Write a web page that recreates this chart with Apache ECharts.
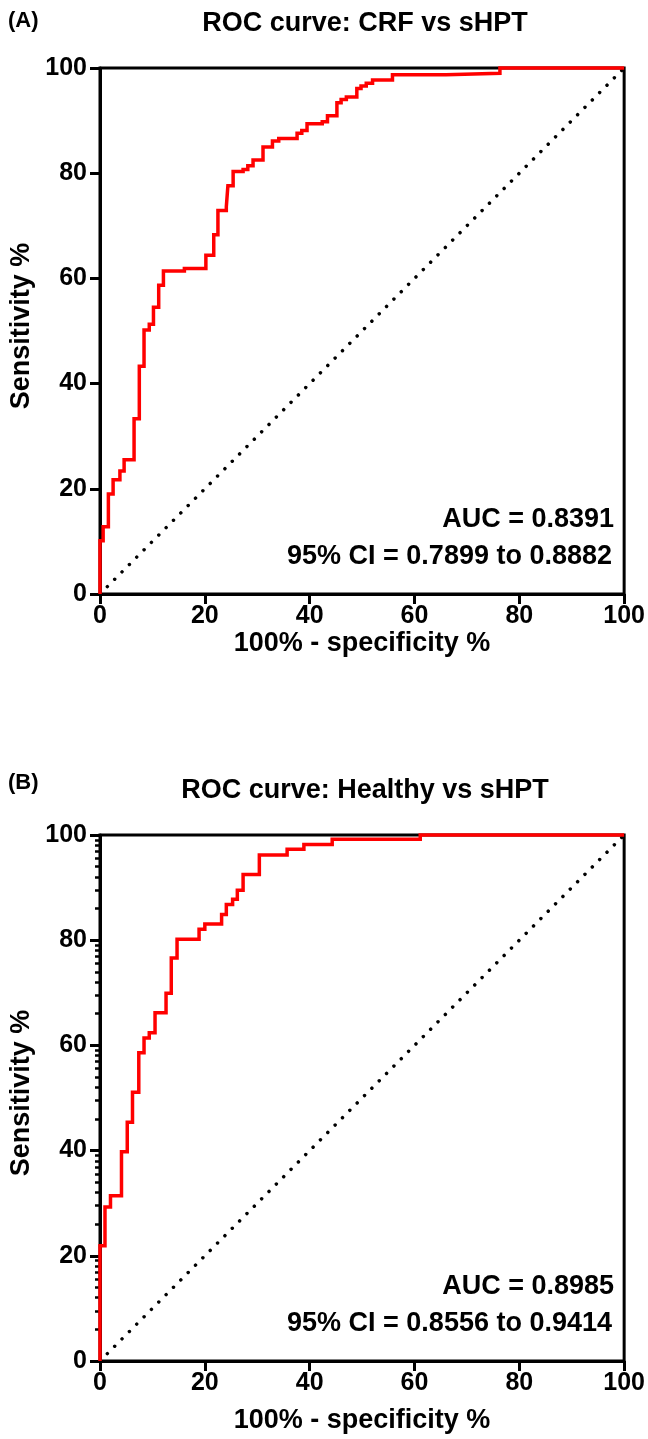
<!DOCTYPE html>
<html><head><meta charset="utf-8">
<script src="https://cdn.jsdelivr.net/npm/echarts@6/dist/echarts.min.js"></script>
<style>html,body{margin:0;padding:0;background:#fff}#c{width:648px;height:1439px}</style>
</head><body><div id="c"></div>
<script>
// ---- data ----
const panelTitles = ['ROC curve: CRF vs sHPT', 'ROC curve: Healthy vs sHPT'];
const panelLetters = ['(A)', '(B)'];
const xAxisTitle = '100% - specificity %';
const yAxisTitle = 'Sensitivity %';
const aucTexts = ['AUC = 0.8391', 'AUC = 0.8985'];
const ciTexts = ['95% CI = 0.7899 to 0.8882', '95% CI = 0.8556 to 0.9414'];
const axisTicks = [0, 20, 40, 60, 80, 100];
const diagonal = [[0, 0], [100, 100]];

// Panel A: 100% - specificity (x) and sensitivity (y) at each step
const fprA = [0, 0, 0.6, 1.6, 2.5, 3.8, 4.6, 6.5, 7.5, 8.4, 9.4, 10.2, 11.2, 12.1, 16.1, 20.2, 21.7, 22.5, 24.1, 24.4, 25.4, 27.3, 28.2, 29.2, 31.1, 32.9, 34.1, 37.6, 38.5, 39.5, 42.4, 43.4, 45.2, 46.0, 47.0, 49.0, 49.8, 50.8, 52.0, 55.8, 66.0, 76.3, 100];
const tprA = [0, 10.1, 12.8, 19.0, 21.7, 23.4, 25.5, 33.3, 43.3, 50.2, 51.3, 54.5, 58.7, 61.4, 61.9, 64.4, 68.3, 72.9, 73.6, 77.6, 80.3, 80.7, 81.4, 82.5, 85.0, 86.1, 86.6, 87.6, 88.1, 89.4, 89.8, 90.9, 93.4, 94.0, 94.5, 96.1, 96.6, 97.1, 97.7, 98.7, 99.0, 100, 100];

// Panel B
const fprB = [0, 0, 0.95, 2.0, 4.1, 5.2, 6.2, 7.4, 8.4, 9.4, 10.5, 12.6, 13.6, 14.7, 18.9, 20.0, 23.2, 24.1, 25.3, 26.2, 27.3, 30.4, 35.7, 38.9, 44.3, 61.1, 100];
const tprB = [0, 21.9, 29.3, 31.4, 39.8, 45.4, 51.1, 58.6, 61.4, 62.4, 66.2, 69.9, 76.6, 80.2, 82.1, 83.1, 84.9, 86.8, 87.8, 89.5, 92.5, 96.2, 97.3, 98.2, 99.2, 100, 100];

// minor (log-style) ticks on panel B y axis
const minorFactors = [2, 3, 4, 5, 6, 7, 8, 9];

// ---- build ----
const FONT = '"Liberation Sans", Arial, sans-serif';
const zip = (a, b) => a.map((v, i) => [v, b[i]]);
const minorVals = [];
[0, 20, 40, 60, 80].forEach(d => minorFactors.forEach(k => minorVals.push(+(d + 20 * Math.log10(k)).toFixed(3))));

const gridTops = [68, 835];
const gridH = 526, gridL = 100, gridW = 525;
const nameGaps = [34, 46];
const letterY = [21, 783];

const chart = echarts.init(document.getElementById('c'), null, {renderer: 'canvas'});

const xAxes = [], yAxes = [], series = [], graphics = [];
gridTops.forEach((top, i) => {
  xAxes.push({
    type: 'value', gridIndex: i, min: 0, max: 100, interval: 20,
    axisLine: {show: true, lineStyle: {color: '#000', width: 3}},
    axisTick: {show: true, length: 10, lineStyle: {color: '#000', width: 3}},
    axisLabel: {color: '#000', fontFamily: FONT, fontWeight: 'bold', fontSize: 25, margin: 10},
    splitLine: {show: false},
    name: xAxisTitle, nameLocation: 'middle', nameGap: nameGaps[i],
    nameTextStyle: {color: '#000', fontFamily: FONT, fontWeight: 'bold', fontSize: 27}
  });
  yAxes.push({
    type: 'value', gridIndex: i, min: 0, max: 100, interval: 20,
    axisLine: {show: true, lineStyle: {color: '#000', width: 3}},
    axisTick: {show: true, length: 10, lineStyle: {color: '#000', width: 3}},
    axisLabel: {color: '#000', fontFamily: FONT, fontWeight: 'bold', fontSize: 25, margin: 13},
    splitLine: {show: false}
  });
  series.push({
    type: 'line', xAxisIndex: i, yAxisIndex: i, data: diagonal, showSymbol: false, silent: true,
    lineStyle: {color: '#000', width: 3.5, type: [0.01, 10.4], cap: 'round'}, z: 3
  });
  series.push({
    type: 'line', xAxisIndex: i, yAxisIndex: i, step: 'end',
    data: i === 0 ? zip(fprA, tprA) : zip(fprB, tprB),
    showSymbol: false, silent: true, clip: false,
    lineStyle: {color: '#ff0000', width: 3.5, join: 'miter'}, z: 4
  });
  const off = top - 68;
  graphics.push({type: 'text', x: 365, y: 24 + off, style: {text: panelTitles[i], font: 'bold 27px ' + FONT, fill: '#000', textAlign: 'center', textVerticalAlign: 'middle'}});
  graphics.push({type: 'text', x: 8, y: letterY[i], style: {text: panelLetters[i], font: 'bold 22px ' + FONT, fill: '#000', textAlign: 'left', textVerticalAlign: 'middle'}});
  graphics.push({type: 'text', x: 22, y: 326 + off, rotation: Math.PI / 2, style: {text: yAxisTitle, font: 'bold 27px ' + FONT, fill: '#000', textAlign: 'center', textVerticalAlign: 'middle'}});
  graphics.push({type: 'text', x: 614, y: 520 + off, style: {text: aucTexts[i], font: 'bold 27px ' + FONT, fill: '#000', textAlign: 'right', textVerticalAlign: 'middle'}});
  graphics.push({type: 'text', x: 612, y: 557 + off, style: {text: ciTexts[i], font: 'bold 27px ' + FONT, fill: '#000', textAlign: 'right', textVerticalAlign: 'middle'}});
});
// extra y-axis for panel B minor ticks
yAxes.push({
  type: 'value', gridIndex: 1, min: 0, max: 100, position: 'left',
  axisLine: {show: false}, axisLabel: {show: false}, splitLine: {show: false},
  axisTick: {show: true, length: 5, customValues: minorVals, lineStyle: {color: '#000', width: 2.5}}
});

chart.setOption({
  backgroundColor: '#fff',
  animation: false,
  grid: gridTops.map(t => ({left: gridL, top: t, width: gridW, height: gridH, show: true, borderColor: '#000', borderWidth: 3, backgroundColor: 'transparent'})),
  xAxis: xAxes,
  yAxis: yAxes,
  series: series,
  graphic: graphics
});
</script>
</body></html>
